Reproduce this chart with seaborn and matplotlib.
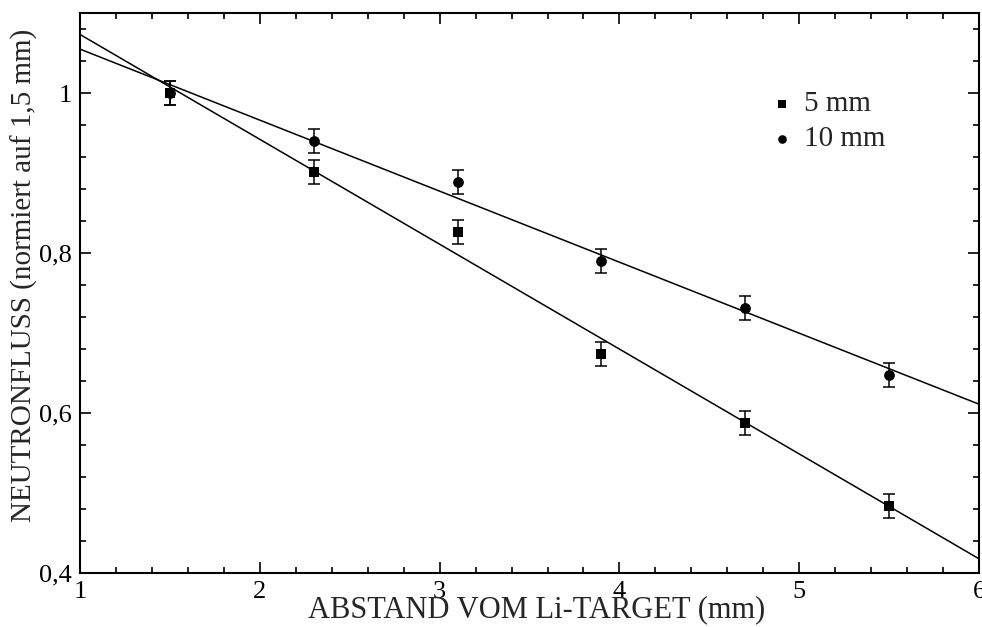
import numpy as np
import pandas as pd
import matplotlib
matplotlib.use("Agg")
import matplotlib.pyplot as plt
from matplotlib.ticker import MultipleLocator, FixedLocator, FixedFormatter
import seaborn as sns

# Measured neutron flux vs. distance from the Li target, normalised to 1.5 mm
distance = [1.5, 2.3, 3.1, 3.9, 4.7, 5.5]
flux_5mm = [1.000, 0.901, 0.826, 0.674, 0.588, 0.484]
flux_10mm = [1.000, 0.940, 0.889, 0.790, 0.731, 0.648]
err_5mm = [0.015, 0.015, 0.015, 0.015, 0.015, 0.015]
err_10mm = [0.015, 0.015, 0.015, 0.015, 0.015, 0.015]

series_labels = ["5 mm", "10 mm"]
x_ticks = [1, 2, 3, 4, 5, 6]
x_tick_labels = ["1", "2", "3", "4", "5", "6"]
y_ticks = [0.4, 0.6, 0.8, 1.0]
y_tick_labels = ["0,4", "0,6", "0,8", "1"]

sns.set_theme(style="ticks")
plt.rcParams["font.family"] = ["Liberation Serif", "DejaVu Serif"]

fig = plt.figure(figsize=(9.82, 6.27), dpi=100)
ax = fig.add_axes([0.0815, 0.0861, 0.9155, 0.893])
ax.set_xlim(1, 6)
ax.set_ylim(0.4, 1.1)

df = pd.DataFrame({
    "x": distance * 2,
    "y": flux_10mm + flux_5mm,
    "err": err_10mm + err_5mm,
    "series": [series_labels[1]] * len(distance) + [series_labels[0]] * len(distance),
})

markers = {series_labels[0]: "s", series_labels[1]: "o"}
for name in [series_labels[1], series_labels[0]]:
    sub = df[df["series"] == name]
    # straight-line least-squares fit across the full axis range
    sns.regplot(data=sub, x="x", y="y", ax=ax, scatter=False, ci=None,
                truncate=False, color="black", line_kws={"lw": 1.1})
    ax.errorbar(sub["x"], sub["y"], yerr=sub["err"], fmt="none",
                ecolor="black", elinewidth=1.1, capsize=4.5, capthick=1.1, zorder=3)
    sns.scatterplot(data=sub, x="x", y="y", ax=ax, marker=markers[name],
                    color="black", s=60, edgecolor="black", linewidth=0,
                    label=name, zorder=4)

ax.xaxis.set_major_locator(FixedLocator(x_ticks))
ax.xaxis.set_major_formatter(FixedFormatter(x_tick_labels))
ax.xaxis.set_minor_locator(MultipleLocator(0.2))
ax.yaxis.set_major_locator(FixedLocator(y_ticks))
ax.yaxis.set_major_formatter(FixedFormatter(y_tick_labels))
ax.yaxis.set_minor_locator(MultipleLocator(0.04))

ax.tick_params(which="both", direction="in", top=True, right=True,
               labelsize=19, color="black", labelcolor="black", pad=6)
ax.tick_params(which="major", length=8, width=1.2)
ax.tick_params(which="minor", length=4.5, width=1.2)
for sp in ax.spines.values():
    sp.set_visible(True)
    sp.set_linewidth(1.5)
    sp.set_color("black")

ax.set_xlabel("ABSTAND VOM Li-TARGET (mm)", fontsize=22)
ax.set_ylabel("NEUTRONFLUSS (normiert auf 1,5 mm)", fontsize=21)
ax.xaxis.label.set_va("center")
ax.yaxis.label.set_va("center")
ax.xaxis.set_label_coords(0.508, -0.066)
ax.yaxis.set_label_coords(-0.062, 0.532)

handles, labels = ax.get_legend_handles_labels()
order = [labels.index(series_labels[0]), labels.index(series_labels[1])]
ax.legend([handles[i] for i in order], [labels[i] for i in order],
          loc="upper left", bbox_to_anchor=(0.768, 0.861), frameon=False,
          fontsize=21, handlelength=0.8, handletextpad=0.35, labelspacing=0.29,
          markerscale=0.8, borderaxespad=0, borderpad=0)

fig.savefig("out.png", dpi=100)
